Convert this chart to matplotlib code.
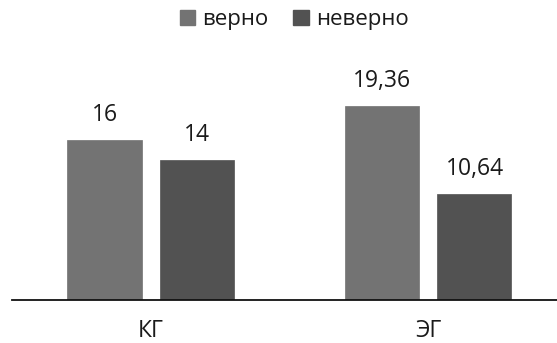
import matplotlib
matplotlib.use("Agg")
import matplotlib.pyplot as plt
from matplotlib.patches import Patch

plt.rcParams['font.family'] = ['Open Sans', 'DejaVu Sans']

categories = ["КГ", "ЭГ"]
series_names = ["верно", "неверно"]
correct = [16, 19.36]
incorrect = [14, 10.64]
value_labels_correct = ["16", "19,36"]
value_labels_incorrect = ["14", "10,64"]

colors = ["#737373", "#525252"]

fig = plt.figure(figsize=(5.57, 3.43), dpi=100)
ax = fig.add_axes([12 / 557, 43 / 343, 545 / 557, 260 / 343])

x = list(range(len(categories)))
width = 0.2667
offset = 1 / 6

for vals, labels, col, sign in [(correct, value_labels_correct, colors[0], -1),
                                (incorrect, value_labels_incorrect, colors[1], 1)]:
    xs = [xi + sign * offset for xi in x]
    ax.bar(xs, vals, width=width, color=col, edgecolor=col, linewidth=0.5)
    for xi, v, lab in zip(xs, vals, labels):
        ax.annotate(lab, (xi, v), xytext=(0, 13.7), textcoords='offset points',
                    ha='center', va='baseline', fontsize=16.5, color='#1a1a1a')

ax.set_xlim(-0.5, 1.464)
ax.set_ylim(0, 26)
ax.set_xticks(x)
ax.set_xticklabels(categories, fontsize=16.5, color='#1a1a1a')
ax.tick_params(axis='x', length=0, pad=14)
ax.set_yticks([])
for side in ['top', 'right', 'left']:
    ax.spines[side].set_visible(False)
ax.spines['bottom'].set_color('#111111')
ax.spines['bottom'].set_linewidth(1.3)

handles = [Patch(facecolor=c, edgecolor=c) for c in colors]
fig.legend(handles, series_names, loc='center', bbox_to_anchor=(294 / 557, 1 - 20 / 343),
           ncol=2, frameon=False, fontsize=16, handlelength=0.68, handleheight=0.68,
           handletextpad=0.32, columnspacing=1.14, labelcolor='#1a1a1a')

fig.savefig("out.png", dpi=100)
